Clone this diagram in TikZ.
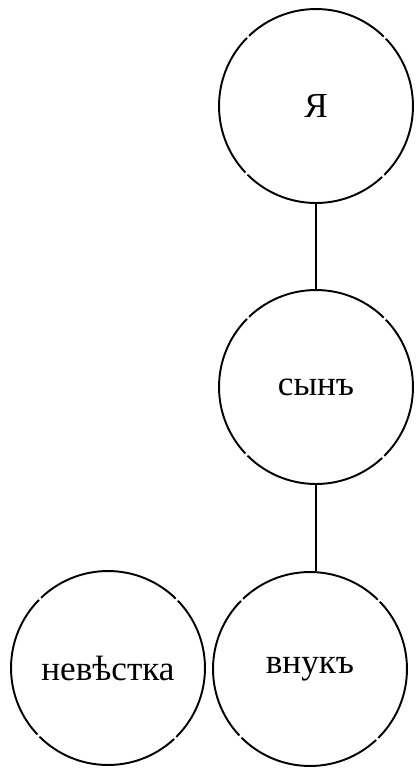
\documentclass[tikz,border=0pt]{standalone}
\usepackage{fontspec}
\setmainfont{Liberation Serif}
\usetikzlibrary{positioning}

\begin{document}
\begin{tikzpicture}[
  x=0.02cm, y=-0.02cm,
  every node/.style={circle,draw,line width=1.1pt,minimum size=3.88cm,
    font=\fontsize{20}{24}\selectfont,
    dash pattern=on 84.7pt off 1.7pt, dash phase=42.35pt}
]
  \useasboundingbox (0,0) rectangle (419,769);

  \node (ya) at (316,106) {Я};
  \node (syn) at (316,387) {сынъ};
  \node (vnuk) at (310,669) {внукъ};
  \node (nevestka) at (108,668) {невѣстка};

  \draw[line width=0.9pt] (ya) -- (syn);
  \draw[line width=0.9pt] (syn.south) -- (syn.south |- vnuk.north);
\end{tikzpicture}
\end{document}
